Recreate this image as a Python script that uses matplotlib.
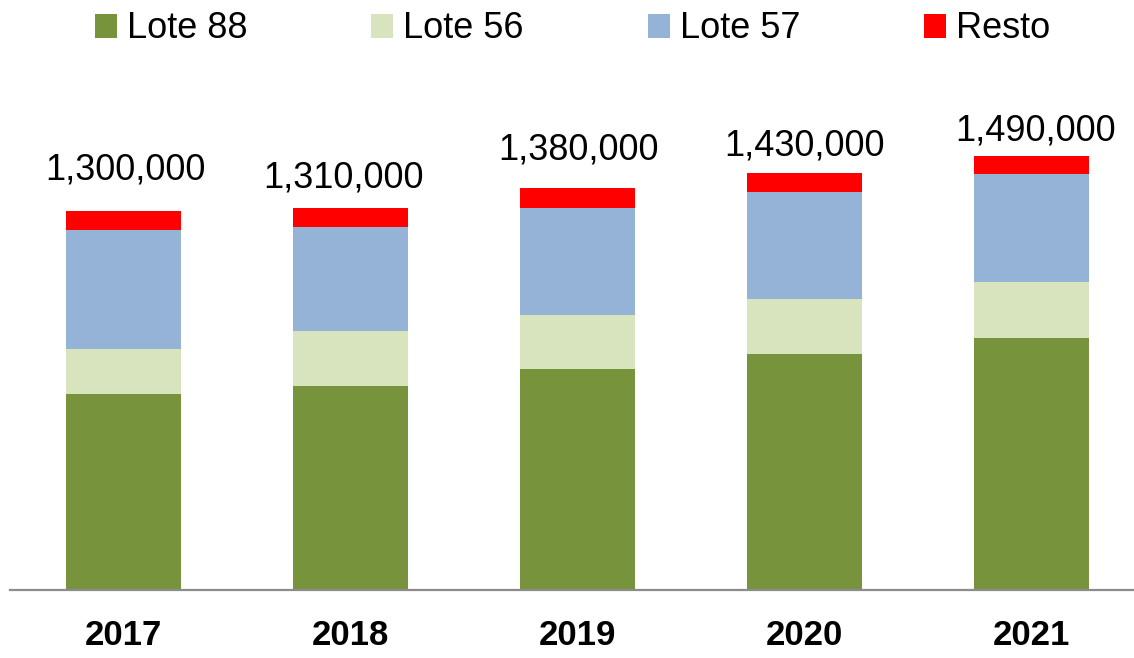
import matplotlib
matplotlib.use("Agg")
import matplotlib.pyplot as plt
from matplotlib.patches import Patch
import numpy as np

years = ["2017", "2018", "2019", "2020", "2021"]
lote88 = [674000, 700000, 757000, 809000, 866000]
lote56 = [153000, 189000, 188000, 190000, 192000]
lote57 = [408000, 356000, 367000, 367000, 368000]
resto = [65000, 65000, 68000, 64000, 64000]
totals = [1300000, 1310000, 1380000, 1430000, 1490000]
series_names = ["Lote 88", "Lote 56", "Lote 57", "Resto"]
colors = ["#77933C", "#D7E4BD", "#95B3D7", "#FF0000"]

# layout: pixel offsets of the total labels above each bar (dx, dy)
label_dx = [2, -7, 1, 0, 4]
label_dy = [24, 13, 20, 10, 7]

plt.rcParams['font.family'] = ['Liberation Sans', 'DejaVu Sans']

W, H = 1134, 658
fig = plt.figure(figsize=(W / 100, H / 100), dpi=100)
base_px = 590
top_px = 60
ax = fig.add_axes([10 / W, (H - base_px) / H, 1124 / W, (base_px - top_px) / H])
px_per_unit = 291.5 / 1e6
ax.set_ylim(0, (base_px - top_px) / px_per_unit)
x = np.arange(len(years))
ax.set_xlim(-0.5, (W - 123.5) / 227)

bottom = np.zeros(len(years))
for vals, name, c in zip([lote88, lote56, lote57, resto], series_names, colors):
    ax.bar(x, vals, width=0.51, bottom=bottom, color=c, label=name, edgecolor='none')
    bottom += np.array(vals)

for xi, top, t, dx, dy in zip(x, bottom, totals, label_dx, label_dy):
    ax.annotate(f"{t:,}", (xi, top), xytext=(dx, dy), textcoords='offset pixels',
                ha='center', va='bottom', fontsize=26, color='black')

for s in ['top', 'right', 'left']:
    ax.spines[s].set_visible(False)
ax.spines['bottom'].set_color('#8c8c8c')
ax.spines['bottom'].set_linewidth(1.6)
ax.set_yticks([])
ax.set_xticks(x)
ax.set_xticklabels(years, fontsize=25, fontweight='bold')
ax.tick_params(axis='x', length=0, pad=21)

handles = [Patch(facecolor=c, edgecolor='none') for c in colors]
fig.legend(handles, series_names, loc='center', bbox_to_anchor=(0.505, (H - 29) / H),
           ncol=4, frameon=False, fontsize=26, handlelength=0.61, handleheight=0.64,
           handletextpad=0.28, columnspacing=3.43, borderaxespad=0)

fig.savefig("out.png", dpi=100)
